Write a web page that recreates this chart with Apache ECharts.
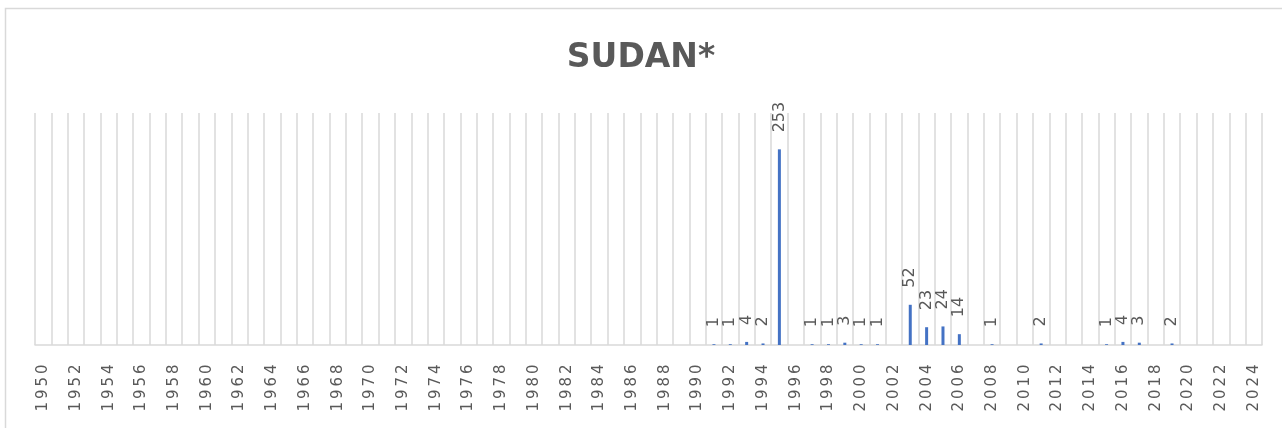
<!DOCTYPE html>
<html>
<head>
<meta charset="utf-8">
<script src="https://cdn.jsdelivr.net/npm/echarts@6/dist/echarts.min.js"></script>
<style>
html, body { margin: 0; padding: 0; background: #fff; }
#chart { width: 1282px; height: 428px; }
</style>
</head>
<body>
<div id="chart"></div>
<script>
// categories: one per year
var years = [];
for (var y = 1950; y <= 2024; y++) years.push(String(y));

// years that have a value, and the values
var eventYears = ['1991', '1992', '1993', '1994', '1995', '1997', '1998', '1999', '2000', '2001',
                  '2003', '2004', '2005', '2006', '2008', '2011', '2015', '2016', '2017', '2019'];
var eventCounts = [1, 1, 4, 2, 253, 1, 1, 3, 1, 1,
                   52, 23, 24, 14, 1, 2, 1, 4, 3, 2];

// one value per category (empty years stay 0)
var values = years.map(function (yr) {
  var i = eventYears.indexOf(yr);
  return i >= 0 ? eventCounts[i] : 0;
});

var myChart = echarts.init(document.getElementById('chart'));
var option = {
  animation: false,
  title: {
    text: 'SUDAN*',
    left: 'center',
    top: 37,
    textStyle: {
      fontFamily: 'DejaVu Sans',
      fontWeight: 'bold',
      fontSize: 33,
      color: '#595959'
    }
  },
  // outer chart border
  graphic: [{
    type: 'rect',
    shape: { x: 5.5, y: 8.5, width: 1400, height: 600 },
    style: { fill: 'none', stroke: '#d9d9d9', lineWidth: 1.5 },
    silent: true
  }],
  grid: {
    left: 35,
    right: 20,
    top: 113,
    bottom: 83
  },
  xAxis: {
    type: 'category',
    data: years,
    boundaryGap: true,
    axisLine: { lineStyle: { color: '#d9d9d9', width: 1.5 } },
    axisTick: { show: false },
    axisLabel: {
      interval: 1,
      rotate: 90,
      margin: 18,
      fontFamily: 'DejaVu Sans',
      fontSize: 15,
      color: '#595959',
      // wide-spaced digits like the original
      formatter: function (v) {
        return v.split('').map(function (c) { return '{d|' + c + '}'; }).join('');
      },
      rich: {
        d: { width: 12.5, align: 'center', fontFamily: 'DejaVu Sans', fontSize: 15, color: '#595959' }
      }
    },
    splitLine: {
      show: true,
      interval: 0,
      lineStyle: { color: '#d9d9d9', width: 1.5 }
    }
  },
  yAxis: {
    type: 'value',
    min: 0,
    max: 300,
    show: false,
    splitLine: { show: false }
  },
  series: [{
    type: 'bar',
    data: values,
    barWidth: 3,
    itemStyle: { color: '#4472C4' },
    label: {
      show: true,
      position: 'top',
      rotate: 90,
      align: 'left',
      verticalAlign: 'middle',
      distance: 17,
      fontFamily: 'DejaVu Sans',
      fontSize: 16,
      color: '#595959',
      formatter: function (p) { return p.value ? String(p.value) : ''; }
    }
  }]
};
myChart.setOption(option);
</script>
</body>
</html>
